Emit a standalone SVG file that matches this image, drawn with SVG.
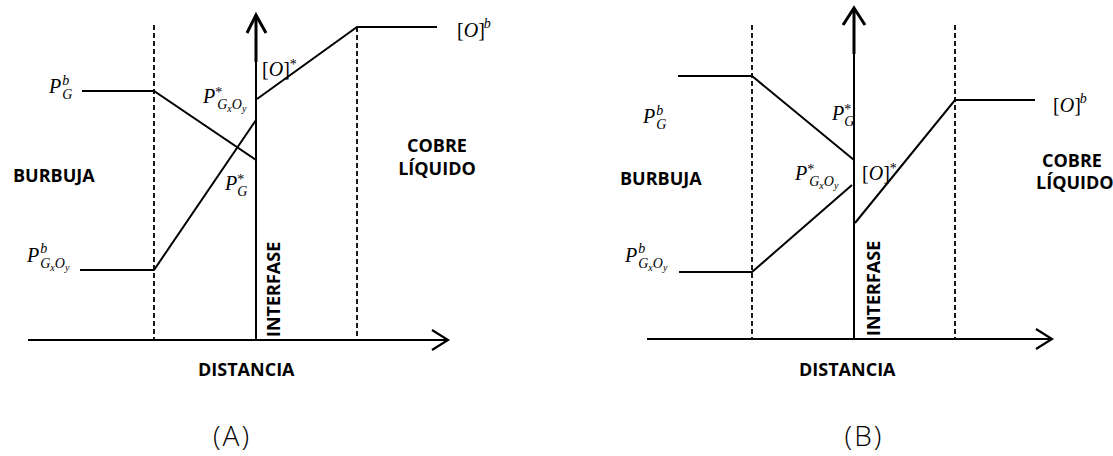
<svg xmlns="http://www.w3.org/2000/svg" width="1113" height="456" viewBox="0 0 1113 456">
<style>
.ln{stroke:#000;stroke-width:2;fill:none}
.ax{stroke:#000;stroke-width:2.2;fill:none}
.axt{stroke:#000;stroke-width:3;fill:none}
.ds{stroke:#000;stroke-width:1.8;stroke-dasharray:5 3;fill:none}
.lbl{font-family:"Open Sans","Liberation Sans",sans-serif;font-weight:700;font-size:18px;fill:#000}
.cap{font-family:"Open Sans","Liberation Sans",sans-serif;font-weight:300;font-size:28px;letter-spacing:2px;fill:#000}
.m{font-family:"Liberation Serif",serif;font-style:italic;font-size:20px;fill:#000}
.r{font-style:normal}
.s{font-size:14px}
.ss{font-size:10px}
.st{font-style:normal;font-size:14px}
</style>
<rect width="1113" height="456" fill="#fff"/>
<g id="connectors">
 <line class="ds" x1="154" y1="25" x2="154" y2="340"/>
 <line class="ds" x1="357" y1="27" x2="357" y2="340"/>
 <line class="ax" x1="28" y1="340" x2="447" y2="340"/>
 <polyline class="ax" points="432,330 448,340 432,350"/>
 <line class="ln" x1="256" y1="340" x2="256" y2="60"/>
 <line class="axt" x1="256" y1="62" x2="256" y2="15"/>
 <polyline class="axt" points="247,33 256,15 266,33"/>
 <polyline class="ln" points="82,91 154,91 256,160"/>
 <polyline class="ln" points="80,270 154,270 256,120"/>
 <polyline class="ln" points="257,99 357,27 437,27"/>
 <line class="ds" x1="752" y1="25" x2="752" y2="340"/>
 <line class="ds" x1="955" y1="25" x2="955" y2="340"/>
 <line class="ax" x1="647" y1="339" x2="1051" y2="339"/>
 <polyline class="ax" points="1036,329 1052,339 1036,349"/>
 <line class="ln" x1="854" y1="339" x2="854" y2="52"/>
 <line class="axt" x1="854" y1="54" x2="854" y2="8"/>
 <polyline class="axt" points="843,25 854,8 865,25"/>
 <polyline class="ln" points="678,76 752,76 854,160"/>
 <polyline class="ln" points="679,272 752,272 852,185"/>
 <polyline class="ln" points="855,223 955,100 1035,100"/>
</g>
<g id="burbuja-a"><text class="lbl" x="13" y="182">BURBUJA</text></g>
<g id="cobre-a"><text class="lbl" x="437" y="152" text-anchor="middle">COBRE</text><text class="lbl" x="437" y="175" text-anchor="middle">LÍQUIDO</text></g>
<g id="interfase-a"><text class="lbl" transform="translate(280,337) rotate(-90)" x="0" y="0">INTERFASE</text></g>
<g id="distancia-a"><text class="lbl" x="198" y="376">DISTANCIA</text></g>
<g id="caption-a"><text class="cap" x="232" y="446" text-anchor="middle">(A)</text></g>
<g id="pgb-a"><text class="m" x="49" y="93">P<tspan class="s" dx="1" dy="-8">b</tspan><tspan class="s" dx="-7" dy="14">G</tspan></text></g>
<g id="pgxoyb-a"><text class="m" x="27" y="262">P<tspan class="s" dx="1" dy="-9">b</tspan><tspan class="s" dx="-7" dy="15">G</tspan><tspan class="ss" dy="3">x</tspan><tspan class="s" dy="-3">O</tspan><tspan class="ss" dy="3">y</tspan></text></g>
<g id="pgxoys-a"><text class="m" x="203" y="103">P<tspan class="st" dy="-6">*</tspan><tspan class="s" dx="-5" dy="12">G</tspan><tspan class="ss" dy="3">x</tspan><tspan class="s" dy="-3">O</tspan><tspan class="ss" dy="3">y</tspan></text></g>
<g id="pgs-a"><text class="m" x="225" y="190">P<tspan class="st" dy="-6">*</tspan><tspan class="s" dx="-7" dy="12">G</tspan></text></g>
<g id="os-a"><text class="m" x="262" y="76"><tspan class="r">[</tspan>O<tspan class="r">]</tspan><tspan class="st" dy="-7">*</tspan></text></g>
<g id="ob-a"><text class="m" x="457" y="37"><tspan class="r">[</tspan>O<tspan class="r">]</tspan><tspan class="s" dx="-1" dy="-9">b</tspan></text></g>
<g id="burbuja-b"><text class="lbl" x="620" y="185">BURBUJA</text></g>
<g id="cobre-b"><text class="lbl" x="1072" y="167" text-anchor="middle">COBRE</text><text class="lbl" x="1036" y="189">LÍQUIDO</text></g>
<g id="interfase-b"><text class="lbl" transform="translate(880,336) rotate(-90)" x="0" y="0">INTERFASE</text></g>
<g id="distancia-b"><text class="lbl" x="799" y="376">DISTANCIA</text></g>
<g id="caption-b"><text class="cap" x="864" y="446" text-anchor="middle">(B)</text></g>
<g id="pgb-b"><text class="m" x="643" y="123">P<tspan class="s" dx="1" dy="-8">b</tspan><tspan class="s" dx="-7" dy="14">G</tspan></text></g>
<g id="pgs-b"><text class="m" x="832" y="120">P<tspan class="st" dy="-6">*</tspan><tspan class="s" dx="-7" dy="12">G</tspan></text></g>
<g id="pgxoys-b"><text class="m" x="795" y="180">P<tspan class="st" dy="-6">*</tspan><tspan class="s" dx="-5" dy="12">G</tspan><tspan class="ss" dy="3">x</tspan><tspan class="s" dy="-3">O</tspan><tspan class="ss" dy="3">y</tspan></text></g>
<g id="os-b"><text class="m" x="862" y="180"><tspan class="r">[</tspan>O<tspan class="r">]</tspan><tspan class="st" dy="-7">*</tspan></text></g>
<g id="ob-b"><text class="m" x="1053" y="112"><tspan class="r">[</tspan>O<tspan class="r">]</tspan><tspan class="s" dx="-1" dy="-9">b</tspan></text></g>
<g id="pgxoyb-b"><text class="m" x="625" y="262">P<tspan class="s" dx="1" dy="-9">b</tspan><tspan class="s" dx="-7" dy="15">G</tspan><tspan class="ss" dy="3">x</tspan><tspan class="s" dy="-3">O</tspan><tspan class="ss" dy="3">y</tspan></text></g>
</svg>
